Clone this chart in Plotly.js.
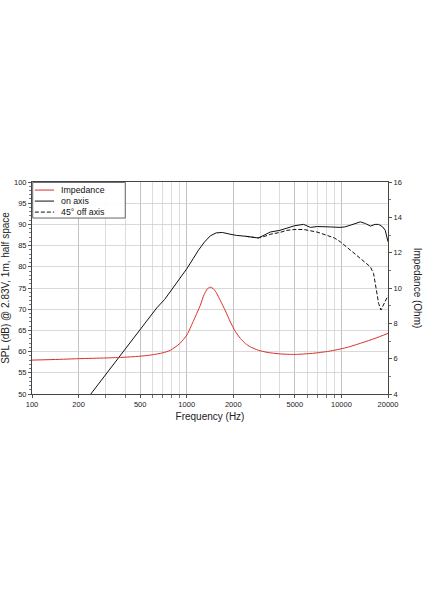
<!DOCTYPE html>
<html>
<head>
<meta charset="utf-8">
<script src="https://cdn.plot.ly/plotly-3.0.1.min.js"></script>
<style>
html,body{margin:0;padding:0;background:#fff;}
#chart{width:424px;height:600px;}
</style>
</head>
<body>
<div id="chart"></div>
<script>
// ---- data ----
var impFreq = [100,150,200,300,373,450,530,600,700,783,900,1004,1100,1224,1294,1360,1420,1480,1550,1648,1780,1914,2060,2220,2400,2575,2900,3300,4000,5000,6500,8300,10700,13600,16500,20000];
var impOhm  = [5.92,5.96,6.0,6.04,6.07,6.11,6.16,6.22,6.33,6.47,6.85,7.35,8.1,9.02,9.62,9.95,10.05,9.97,9.75,9.3,8.7,8.08,7.55,7.15,6.85,6.67,6.48,6.36,6.27,6.24,6.3,6.42,6.62,6.9,7.15,7.43];

var onFreq = [240,300,373,430,500,570,640,720,783,900,1004,1100,1190,1300,1420,1550,1700,1900,2100,2400,2700,2900,3100,3470,4000,4450,5000,5700,6300,7000,7700,8500,9800,10500,11400,12500,13250,14300,15400,16500,17400,18500,19200,20000];
var onSPL  = [50.0,54.6,59.0,62.0,65.0,67.9,70.3,72.3,74.1,77.2,79.6,81.9,83.9,85.8,87.3,88.0,88.1,87.7,87.4,87.2,86.9,86.8,87.3,88.2,88.6,89.2,89.7,90.0,89.3,89.5,89.5,89.4,89.3,89.4,89.8,90.3,90.6,90.2,89.6,90.0,90.0,89.4,88.6,85.9];

var offFreq = [2400,2700,2900,3200,3500,4000,4450,5000,5700,6300,6950,8070,9000,9840,11000,12590,13500,15380,16140,16740,17390,18010,18740,19520,20000];
var offSPL  = [87.2,86.9,86.8,87.2,87.7,88.1,88.6,88.8,88.8,88.5,88.2,87.4,86.8,85.9,84.4,82.7,81.8,80.0,78.4,75.3,71.4,69.8,71.0,72.5,73.2];

var freqTicks = [100,200,500,1000,2000,5000,10000,20000];
var freqTickText = ['100','200','500','1000','2000','5000','10000','20000'];
var freqMinor = [300,400,600,700,800,900,3000,4000,6000,7000,8000,9000];
var legendLabels = ['Impedance','on axis','45\u00b0 off axis'];

var xTitle = 'Frequency (Hz)';
var yTitle = 'SPL (dB) @ 2.83V, 1m, half space';
var y2Title = 'Impedance (Ohm)';

var RED = '#d8302a', BLK = '#111111';
var FONT = 'Liberation Sans, Arial, Helvetica, sans-serif';

var traces = [
  {x: offFreq, y: offSPL, type:'scatter', mode:'lines', name: legendLabels[2],
   line:{color:BLK, width:1, dash:'4px,2px'}, hoverinfo:'skip'},
  {x: onFreq, y: onSPL, type:'scatter', mode:'lines', name: legendLabels[1],
   line:{color:BLK, width:1}, hoverinfo:'skip'},
  {x: impFreq, y: impOhm, type:'scatter', mode:'lines', name: legendLabels[0], yaxis:'y2',
   line:{color:RED, width:1, shape:'spline', smoothing:0.6}, hoverinfo:'skip'}
];

// manual compact legend (paper coords inside plot area)
var legRows = [0.962, 0.910, 0.858];
var legStyles = [{color:RED, dash:'solid'},{color:BLK, dash:'solid'},{color:BLK, dash:'4px,2px'}];
var shapes = [{type:'rect', xref:'paper', yref:'paper', x0:0.002, x1:0.262, y0:0.830, y1:0.998,
  line:{color:'#666', width:1}, fillcolor:'rgba(255,255,255,0.9)', layer:'above'}];
var annotations = [];
legendLabels.forEach(function(lbl, i){
  shapes.push({type:'line', xref:'paper', yref:'paper', x0:0.008, x1:0.062, y0:legRows[i], y1:legRows[i],
    line:{color:legStyles[i].color, width:1, dash:legStyles[i].dash}, layer:'above'});
  annotations.push({xref:'paper', yref:'paper', x:0.078, y:legRows[i], xanchor:'left', yanchor:'middle',
    text:lbl, showarrow:false, borderpad:0, font:{family:FONT, size:8.8, color:'#111'}});
});
annotations.push({xref:'paper', yref:'paper', x:1.085, y:0.5, xanchor:'center', yanchor:'middle',
  text:y2Title, textangle:90, showarrow:false, font:{family:FONT, size:10, color:'#222'}});

var layout = {
  width:424, height:600,
  margin:{l:32, r:36, t:182, b:206},
  paper_bgcolor:'#fff', plot_bgcolor:'#fff',
  showlegend:false,
  font:{family:FONT, color:'#222'},
  xaxis:{type:'log', range:[2, Math.log10(20000)], tickmode:'array', tickvals:freqTicks, ticktext:freqTickText,
    tickfont:{size:7.5}, ticks:'outside', ticklen:3, tickcolor:'#555',
    showgrid:true, gridcolor:'#b4b4b4', gridwidth:0.8,
    minor:{tickmode:'array', tickvals:freqMinor, showgrid:true, gridcolor:'#d4d4d4', gridwidth:0.8, ticks:'outside', ticklen:3, tickcolor:'#777'},
    showline:true, linecolor:'#444', linewidth:1, mirror:true, zeroline:false,
    title:{text:xTitle, font:{size:10}, standoff:4}, automargin:false},
  yaxis:{range:[50,100], dtick:5, tick0:50, tickfont:{size:7.5}, ticks:'outside', ticklen:3, tickcolor:'#555',
    showgrid:true, gridcolor:'#cfcfcf', gridwidth:0.8,
    minor:{dtick:1, ticks:'outside', ticklen:2, tickcolor:'#777', showgrid:false},
    showline:true, linecolor:'#444', linewidth:1, mirror:true, zeroline:false,
    title:{text:yTitle, font:{size:10}, standoff:3}, automargin:false},
  yaxis2:{overlaying:'y', side:'right', range:[4,16], dtick:2, tick0:4, tickfont:{size:7.5},
    ticks:'outside', ticklen:3, tickcolor:'#555',
    minor:{dtick:1, ticks:'outside', ticklen:2, tickcolor:'#777', showgrid:false},
    showgrid:false, showline:true, linecolor:'#444', linewidth:1, zeroline:false, automargin:false},
  shapes: shapes,
  annotations: annotations
};

Plotly.newPlot('chart', traces, layout, {displayModeBar:false, staticPlot:true});
</script>
</body>
</html>
